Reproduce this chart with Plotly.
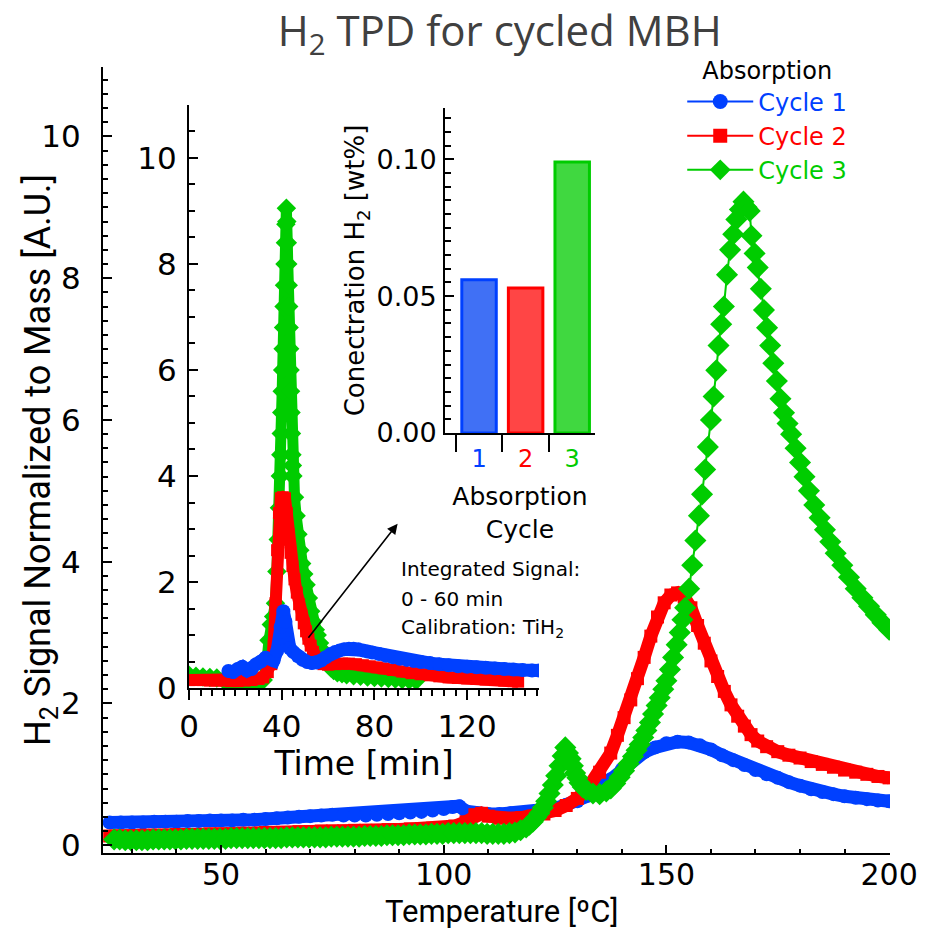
import plotly.graph_objects as go

# ---------------- main TPD data (Temperature [ºC] vs H2 signal) ----------------
t1 = [25, 27.5, 30, 32.5, 35, 37.5, 40, 42.5, 45, 47.5, 50, 52.5, 55, 57.5, 60, 62.5, 65, 67.5, 70, 72.5,
      75, 77.5, 80, 82.5, 85, 87.5, 90, 92.5, 95, 97.5, 100, 102, 103.5, 105, 107.5, 110, 112.5, 115, 117.5,
      120, 122.5, 125, 127.5, 130, 132.5, 135, 137.5, 140, 142.5, 145, 147.5, 150, 152.5, 155, 157.5, 160,
      162.5, 165, 167.5, 170, 172.5, 175, 177.5, 180, 182.5, 185, 187.5, 190, 192.5, 195, 197.5, 200]
s1 = [0.32, 0.32, 0.32, 0.32, 0.33, 0.33, 0.33, 0.34, 0.34, 0.35, 0.35, 0.35, 0.36, 0.36, 0.37, 0.38, 0.39,
      0.40, 0.41, 0.42, 0.43, 0.42, 0.42, 0.42, 0.43, 0.44, 0.45, 0.46, 0.47, 0.49, 0.51, 0.54, 0.55, 0.48,
      0.45, 0.44, 0.44, 0.45, 0.45, 0.46, 0.48, 0.52, 0.57, 0.62, 0.70, 0.80, 0.93, 1.07, 1.20, 1.31, 1.38,
      1.44, 1.46, 1.45, 1.41, 1.35, 1.27, 1.20, 1.13, 1.06, 1.00, 0.95, 0.89, 0.84, 0.79, 0.75, 0.72, 0.69,
      0.67, 0.65, 0.63, 0.62]

t2 = [25, 27.5, 30, 32.5, 35, 37.5, 40, 42.5, 45, 47.5, 50, 52.5, 55, 57.5, 60, 62.5, 65, 67.5, 70, 72.5,
      75, 77.5, 80, 82.5, 85, 87.5, 90, 92.5, 95, 97.5, 100, 102.5, 105, 107, 108.5, 110, 112.5, 115, 117.5,
      120, 122.5, 125, 127.5, 130, 132.5, 135, 137.5, 139, 140.5, 142, 143.5, 145, 146.5, 148, 149.5, 151,
      152.5, 154, 155.5, 157, 158.5, 160, 161.5, 163, 164.5, 166, 167.5, 169, 170.5, 172.5, 175, 177.5, 180,
      182.5, 185, 187.5, 190, 192.5, 195, 197.5, 200]
s2 = [0.13, 0.13, 0.13, 0.14, 0.14, 0.14, 0.15, 0.15, 0.15, 0.16, 0.16, 0.16, 0.17, 0.17, 0.18, 0.18, 0.18,
      0.19, 0.19, 0.20, 0.20, 0.20, 0.21, 0.21, 0.21, 0.22, 0.22, 0.23, 0.23, 0.24, 0.25, 0.27, 0.33, 0.43,
      0.45, 0.41, 0.38, 0.38, 0.39, 0.41, 0.44, 0.49, 0.56, 0.66, 0.82, 1.03, 1.30, 1.55, 1.80, 2.05, 2.35,
      2.65, 2.95, 3.22, 3.42, 3.53, 3.56, 3.50, 3.35, 3.10, 2.85, 2.60, 2.38, 2.17, 1.98, 1.82, 1.68, 1.56,
      1.47, 1.39, 1.32, 1.27, 1.23, 1.18, 1.14, 1.10, 1.06, 1.03, 1.00, 0.97, 0.95]

t3 = [26, 27.25, 28.5, 29.75, 31, 32.25, 33.5, 34.75, 36, 37.25, 38.5, 39.75, 41, 42.25, 43.5, 44.75, 46,
      47.25, 48.5, 49.75, 51, 52.25, 53.5, 54.75, 56, 57.25, 58.5, 59.75, 61, 62.25, 63.5, 64.75, 66, 67.25,
      68.5, 69.75, 71, 72.25, 73.5, 74.75, 76, 77.25, 78.5, 79.75, 81, 82.25, 83.5, 84.75, 86, 87.25, 88.5,
      89.75, 91, 92.25, 93.5, 94.75, 96, 97.25, 98.5, 99.75, 101, 102.25, 103.5, 104.75, 106, 107.25, 108.5,
      109.75, 111, 112.25, 113.5, 114.75, 116, 117.25, 118.5, 119.25, 120, 120.75, 121.5, 122.25, 123,
      123.75, 124.5, 125.25, 126, 126.7, 127.3, 127.9, 128.5, 129, 129.5, 130, 130.5, 131.2, 132, 133.5, 135,
      136.5, 137.5, 138.5, 139.5, 140.5, 141.5, 142.5, 143.3, 144, 144.8, 145.5, 146.3, 147, 147.8, 148.5,
      149.3, 150, 150.8, 151.5, 152.3, 153, 153.6, 154.2, 155.1, 155.8, 156.5, 157.3, 158, 158.7, 159.3, 160,
      160.6, 161.2, 161.7, 162.3, 162.9, 163.6, 164.3, 165, 165.7, 166.5, 167.3, 168, 168.7, 169.1, 169.8,
      170.5, 171.2, 171.9, 172.6, 173.3, 174, 174.8, 175.6, 176.4, 177.2, 178, 179, 180, 181, 182, 183.2,
      184.4, 185.6, 186.8, 188, 189.5, 191, 192.5, 194, 195.5, 197, 198.5, 200]
s3 = [0.08, 0.08, 0.07, 0.07, 0.07, 0.07, 0.07, 0.08, 0.08, 0.08, 0.08, 0.08, 0.08, 0.09, 0.09, 0.09, 0.09,
      0.09, 0.09, 0.09, 0.09, 0.10, 0.10, 0.10, 0.10, 0.10, 0.10, 0.10, 0.10, 0.10, 0.10, 0.11, 0.11, 0.11,
      0.11, 0.11, 0.11, 0.11, 0.11, 0.12, 0.12, 0.12, 0.12, 0.12, 0.12, 0.13, 0.13, 0.13, 0.13, 0.14, 0.14,
      0.14, 0.14, 0.15, 0.15, 0.15, 0.15, 0.16, 0.16, 0.16, 0.17, 0.17, 0.17, 0.17, 0.17, 0.17, 0.17, 0.16,
      0.16, 0.16, 0.16, 0.17, 0.18, 0.21, 0.25, 0.29, 0.33, 0.39, 0.45, 0.53, 0.62, 0.73, 0.85, 0.98, 1.12,
      1.26, 1.38, 1.30, 1.22, 1.12, 1.02, 0.95, 0.88, 0.82, 0.78, 0.73, 0.72, 0.76, 0.80, 0.87, 0.96, 1.05,
      1.15, 1.25, 1.34, 1.42, 1.52, 1.62, 1.73, 1.85, 1.97, 2.08, 2.20, 2.32, 2.48, 2.65, 2.83, 3.00, 3.18,
      3.35, 3.62, 3.95, 4.30, 4.65, 4.95, 5.30, 5.62, 6.00, 6.33, 6.70, 7.05, 7.35, 7.60, 8.05, 8.40, 8.62,
      8.83, 8.97, 9.08, 9.00, 8.95, 8.60, 8.35, 8.15, 7.85, 7.55, 7.30, 7.05, 6.80, 6.55, 6.30, 6.10, 5.95,
      5.80, 5.60, 5.40, 5.20, 5.00, 4.80, 4.62, 4.45, 4.28, 4.12, 3.95, 3.78, 3.62, 3.49, 3.37, 3.25, 3.14,
      3.04]

# ---------------- inset: signal vs time [min] ----------------
m1 = [17, 19, 21, 23, 25, 27, 29, 31, 33, 35, 36.5, 38, 39.5, 40.7, 41.6, 42.3, 43.5, 45, 47, 49, 51, 53,
      55, 57, 59, 61, 63, 65, 67, 69, 71, 73, 75, 77, 79, 82, 85, 88, 91, 94, 97, 100, 104, 108, 112, 116,
      120, 124, 128, 132, 136, 140, 144, 148, 151]
v1 = [0.32, 0.30, 0.36, 0.40, 0.33, 0.36, 0.45, 0.50, 0.57, 0.55, 0.52, 0.70, 1.15, 1.45, 1.25, 0.85, 0.75,
      0.68, 0.60, 0.53, 0.49, 0.47, 0.48, 0.52, 0.58, 0.64, 0.68, 0.71, 0.73, 0.74, 0.74, 0.73, 0.71, 0.69,
      0.67, 0.64, 0.61, 0.58, 0.55, 0.53, 0.51, 0.49, 0.47, 0.45, 0.43, 0.41, 0.40, 0.39, 0.38, 0.37, 0.36,
      0.35, 0.34, 0.33, 0.33]

m2 = [0, 3, 6, 9, 12, 15, 18, 21, 24, 27, 30, 32, 34, 35.5, 36.5, 37.3, 38, 38.8, 39.6, 40.5, 41.4, 42.2,
      43, 43.8, 44.6, 45.5, 46.5, 47.5, 48.5, 49.5, 50.5, 51.5, 52.5, 53.5, 54.5, 56, 58, 60, 63, 66, 69, 72,
      75, 78, 81, 84, 88, 92, 96, 100, 104, 108, 112, 116, 120, 124, 128, 132, 136, 140, 142]
v2 = [0.15, 0.15, 0.15, 0.14, 0.14, 0.14, 0.13, 0.13, 0.14, 0.15, 0.17, 0.20, 0.30, 0.45, 0.80, 1.60, 2.60,
      3.30, 3.58, 3.60, 3.58, 3.30, 2.90, 2.55, 2.30, 2.05, 1.80, 1.58, 1.38, 1.22, 1.07, 0.93, 0.80, 0.68,
      0.57, 0.49, 0.45, 0.44, 0.45, 0.46, 0.46, 0.45, 0.43, 0.41, 0.39, 0.37, 0.34, 0.31, 0.28, 0.26, 0.24,
      0.22, 0.20, 0.19, 0.18, 0.17, 0.16, 0.15, 0.14, 0.13, 0.12]

m3 = [0, 3, 6, 9, 12, 15, 18, 21, 24, 27, 30, 32, 33.5, 34.5, 35.5, 36.5, 37.3, 37.9, 38.5, 39, 39.4, 39.6,
      39.8, 40, 40.2, 40.4, 40.6, 40.8, 41, 41.2, 41.4, 41.6, 41.8, 42, 42.2, 42.4, 42.6, 42.8, 43, 43.2, 43.4,
      43.6, 43.8, 44, 44.2, 44.4, 44.6, 44.8, 45.5, 46.2, 47, 47.8, 48.6, 49.5, 50.5, 51.5, 52.5, 53.5, 54.5,
      55.3, 56.3, 57.2, 58, 59, 60, 61.2, 62.4, 64, 66, 68, 71, 74, 77, 80, 83, 86, 89, 92, 95, 98]
v3 = [0.24, 0.22, 0.21, 0.20, 0.19, 0.15, 0.08, 0.05, 0.05, 0.06, 0.08, 0.15, 0.45, 0.90, 1.20, 1.35, 1.60,
      2.20, 2.80, 3.40, 4.00, 4.40, 4.80, 5.20, 5.60, 6.00, 6.40, 6.80, 7.20, 7.60, 8.00, 8.40, 8.75, 9.05,
      8.80, 8.40, 8.00, 7.60, 7.20, 6.80, 6.40, 6.00, 5.60, 5.20, 4.80, 4.40, 4.20, 4.00, 3.60, 3.25, 2.90,
      2.60, 2.35, 2.15, 1.95, 1.70, 1.45, 1.25, 1.10, 1.00, 0.85, 0.72, 0.62, 0.52, 0.45, 0.38, 0.33, 0.29,
      0.27, 0.25, 0.23, 0.22, 0.21, 0.20, 0.19, 0.18, 0.17, 0.16, 0.15, 0.14]

# ---------------- bar inset: integrated concentration ----------------
cycles = [0, 1, 2]
cycle_labels = ["1", "2", "3"]
conc = [0.056, 0.053, 0.099]

BLUE, RED, GREEN = "#0040ff", "#ff0000", "#00cc00"
bar_fill = ["#4070f5", "#ff4545", "#40d840"]
bar_line = [BLUE, RED, GREEN]
NUM = "DejaVu Sans"
COND = "Liberation Sans Narrow, Roboto, Liberation Sans, sans-serif"

fig = go.Figure()

# main curves (dense markers drawn as thick bands)
fig.add_trace(go.Scatter(x=t1, y=s1, mode="lines+markers", showlegend=False,
                         line=dict(color=BLUE, width=13), marker=dict(symbol="circle", size=14, color=BLUE)))
fig.add_trace(go.Scatter(x=t2, y=s2, mode="lines+markers", showlegend=False,
                         line=dict(color=RED, width=13), marker=dict(symbol="square", size=13, color=RED)))
fig.add_trace(go.Scatter(x=t3, y=s3, mode="lines+markers", showlegend=False,
                         line=dict(color=GREEN, width=2), marker=dict(symbol="diamond", size=17, color=GREEN)))

# legend entries
for nm, col, sym, sz in [("Cycle 1", BLUE, "circle", 15), ("Cycle 2", RED, "square", 14),
                         ("Cycle 3", GREEN, "diamond", 16)]:
    fig.add_trace(go.Scatter(x=[None], y=[None], mode="lines+markers",
                             name=f"<span style='color:{col}'>{nm}</span>",
                             line=dict(color=col, width=2), marker=dict(symbol=sym, size=sz, color=col)))

# inset time traces
fig.add_trace(go.Scatter(x=m3, y=v3, xaxis="x2", yaxis="y2", mode="lines+markers", showlegend=False,
                         line=dict(color=GREEN, width=11), marker=dict(symbol="diamond", size=15, color=GREEN)))
fig.add_trace(go.Scatter(x=m2, y=v2, xaxis="x2", yaxis="y2", mode="lines+markers", showlegend=False,
                         line=dict(color=RED, width=12), marker=dict(symbol="square", size=12, color=RED)))
fig.add_trace(go.Scatter(x=m1, y=v1, xaxis="x2", yaxis="y2", mode="lines+markers", showlegend=False,
                         line=dict(color=BLUE, width=13), marker=dict(symbol="circle", size=14, color=BLUE)))

fig.add_trace(go.Bar(x=cycles, y=conc, xaxis="x3", yaxis="y3", width=0.74, showlegend=False,
                     marker=dict(color=bar_fill, line=dict(color=bar_line, width=3))))

axline = dict(showline=True, linecolor="black", linewidth=2, showgrid=False, zeroline=False,
              tickcolor="black", tickwidth=2, automargin=False)

fig.update_layout(
    width=927, height=930,
    margin=dict(l=103, r=37, t=67, b=77),
    paper_bgcolor="white", plot_bgcolor="white",
    title=dict(text="H<sub>2</sub> TPD for cycled MBH", x=0.539, xanchor="center", y=0.966, yanchor="middle",
               font=dict(family="Open Sans", size=42, color="#404040")),
    xaxis=dict(domain=[0, 1], range=[23.5, 200.2], tickvals=[50, 100, 150, 200], ticks="inside", ticklen=8,
               minor=dict(dtick=10, tick0=0, ticks="inside", ticklen=4, tickwidth=2, tickcolor="black"),
               tickfont=dict(family=NUM, size=30, color="black"), ticklabelstandoff=-6,
               **axline),
    yaxis=dict(domain=[0, 1], range=[-0.11, 10.98], tickvals=[0, 2, 4, 6, 8, 10], ticks="inside", ticklen=9,
               minor=dict(dtick=0.2, tick0=0, ticks="inside", ticklen=5, tickwidth=2, tickcolor="black"),
               tickfont=dict(family=NUM, size=31, color="black"), ticklabelstandoff=14,
               **axline),
    xaxis2=dict(domain=[0.1093, 0.554], anchor="y2", range=[0, 151], tickvals=[0, 40, 80, 120],
                ticks="outside", ticklen=10,
                minor=dict(dtick=5, tick0=0, ticks="outside", ticklen=6, tickwidth=2, tickcolor="black"),
                tickfont=dict(family=NUM, size=31, color="black"),
                title=dict(text="Time [min]", font=dict(family=NUM, size=33, color="black"), standoff=2),
                **axline),
    yaxis2=dict(domain=[0.2099, 0.9517], anchor="x2", range=[0, 11], tickvals=[0, 2, 4, 6, 8, 10],
                ticks="inside", ticklen=9,
                minor=dict(dtick=0.5, tick0=0, ticks="inside", ticklen=6, tickwidth=2, tickcolor="black"),
                tickfont=dict(family=NUM, size=31, color="black"), ticklabelstandoff=4,
                **axline),
    xaxis3=dict(domain=[0.4346, 0.6252], anchor="y3", range=[-0.73, 2.49], tickvals=cycles,
                ticktext=[f"<span style='color:{c}'>{l}</span>" for c, l in zip(bar_line, cycle_labels)],
                ticks="outside", ticklen=0,
                minor=dict(dtick=1, tick0=-0.5, ticks="outside", ticklen=17, tickwidth=2, tickcolor="black"),
                tickfont=dict(family=NUM, size=24), ticklabelstandoff=3,
                title=dict(text="Absorption<br>Cycle", font=dict(family=NUM, size=25, color="black"), standoff=16),
                **axline),
    yaxis3=dict(domain=[0.5344, 0.9478], anchor="x3", range=[0, 0.1187], tickvals=[0, 0.05, 0.10],
                ticktext=["0.00", "0.05", "0.10"], ticks="inside", ticklen=9,
                minor=dict(dtick=0.005, tick0=0, ticks="inside", ticklen=6, tickwidth=2, tickcolor="black"),
                tickfont=dict(family=NUM, size=27, color="black"), ticklabelstandoff=1,
                title=dict(text="Conectration H<sub>2</sub> [wt%]", font=dict(family=NUM, size=26, color="black"),
                           standoff=4),
                **axline),
    legend=dict(x=0.736, y=1.024, xanchor="left", yanchor="top", bgcolor="rgba(0,0,0,0)",
                font=dict(family=NUM, size=24), itemwidth=66,
                title=dict(text="Absorption", side="top center", font=dict(family=NUM, size=24, color="black")),
                tracegroupgap=0),
    showlegend=True,
)

# main axis titles
fig.add_annotation(x=0, y=0.50, xref="paper", yref="paper", xshift=-63, textangle=-90, showarrow=False,
                   text="H<sub>2</sub> Signal Normalized to Mass [A.U.]", xanchor="center", yanchor="middle",
                   font=dict(family=COND, size=36, color="black"))
fig.add_annotation(x=0.506, y=-0.0742, xref="paper", yref="paper", showarrow=False,
                   text="Temperature [ºC]", xanchor="center", yanchor="middle",
                   font=dict(family=COND, size=31, color="black"))

fig.add_annotation(x=90, y=3.1, xref="x2", yref="y2", ax=51, ay=0.92, axref="x2", ayref="y2",
                   showarrow=True, arrowhead=2, arrowsize=1.3, arrowwidth=1.6, arrowcolor="black", text="")
note_lines = ["Integrated Signal:", "0 - 60 min", "Calibration: TiH<sub>2</sub>"]
note_y = [2.25, 1.68, 1.14]
for txt, yy in zip(note_lines, note_y):
    fig.add_annotation(x=90.5, y=yy, xref="x2", yref="y2", text=txt, showarrow=False, xanchor="left",
                       yanchor="middle", font=dict(family=NUM, size=20, color="black"))

fig.write_html("out.html")
